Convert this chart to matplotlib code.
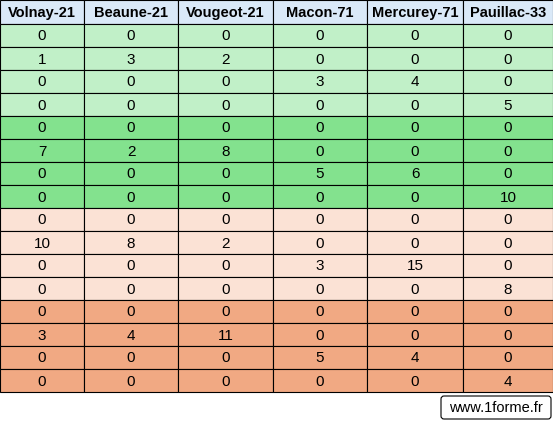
import matplotlib.pyplot as plt
from matplotlib.patches import Rectangle, FancyBboxPatch

headers = ["Volnay-21", "Beaune-21", "Vougeot-21", "Macon-71", "Mercurey-71", "Pauillac-33"]
rows = [
    [0, 0, 0, 0, 0, 0],
    [1, 3, 2, 0, 0, 0],
    [0, 0, 0, 3, 4, 0],
    [0, 0, 0, 0, 0, 5],
    [0, 0, 0, 0, 0, 0],
    [7, 2, 8, 0, 0, 0],
    [0, 0, 0, 5, 6, 0],
    [0, 0, 0, 0, 0, 10],
    [0, 0, 0, 0, 0, 0],
    [10, 8, 2, 0, 0, 0],
    [0, 0, 0, 3, 15, 0],
    [0, 0, 0, 0, 0, 8],
    [0, 0, 0, 0, 0, 0],
    [3, 4, 11, 0, 0, 0],
    [0, 0, 0, 5, 4, 0],
    [0, 0, 0, 0, 0, 4],
]
group_colors = ["#c1f0c8", "#83e28e", "#fbe2d5", "#f1a983"]
header_color = "#dae9f8"

col_edges = [0, 84, 178, 273, 367, 463, 553]
header_h = 24
row_h = 23

fig = plt.figure(figsize=(5.53, 4.21), dpi=100)
ax = fig.add_axes([0, 0, 1, 1])
ax.set_xlim(0, 553)
ax.set_ylim(421, 0)
ax.axis("off")

for j, h in enumerate(headers):
    x0, x1 = col_edges[j], col_edges[j + 1]
    ax.add_patch(Rectangle((x0, 0), x1 - x0, header_h, facecolor=header_color, edgecolor="black", lw=0.8))
    ax.text((x0 + x1) / 2, header_h / 2 + 1, h, ha="center", va="center", fontsize=10.5,
            fontweight="bold", family="Liberation Sans")

for i, r in enumerate(rows):
    y0 = header_h + i * row_h
    c = group_colors[i // 4]
    for j, v in enumerate(r):
        x0, x1 = col_edges[j], col_edges[j + 1]
        ax.add_patch(Rectangle((x0, y0), x1 - x0, row_h, facecolor=c, edgecolor="black", lw=0.8))
        ax.text((x0 + x1) / 2, y0 + row_h / 2 + 1, str(v), ha="center", va="center",
                fontsize=11, family="Liberation Sans")

ax.add_patch(FancyBboxPatch((441, 396), 110, 23, boxstyle="round,pad=0,rounding_size=3",
                            facecolor="white", edgecolor="black", lw=0.8))
ax.text(496, 408, "www.1forme.fr", ha="center", va="center", fontsize=10.5, family="Liberation Sans")

fig.savefig("out.png", dpi=100)
